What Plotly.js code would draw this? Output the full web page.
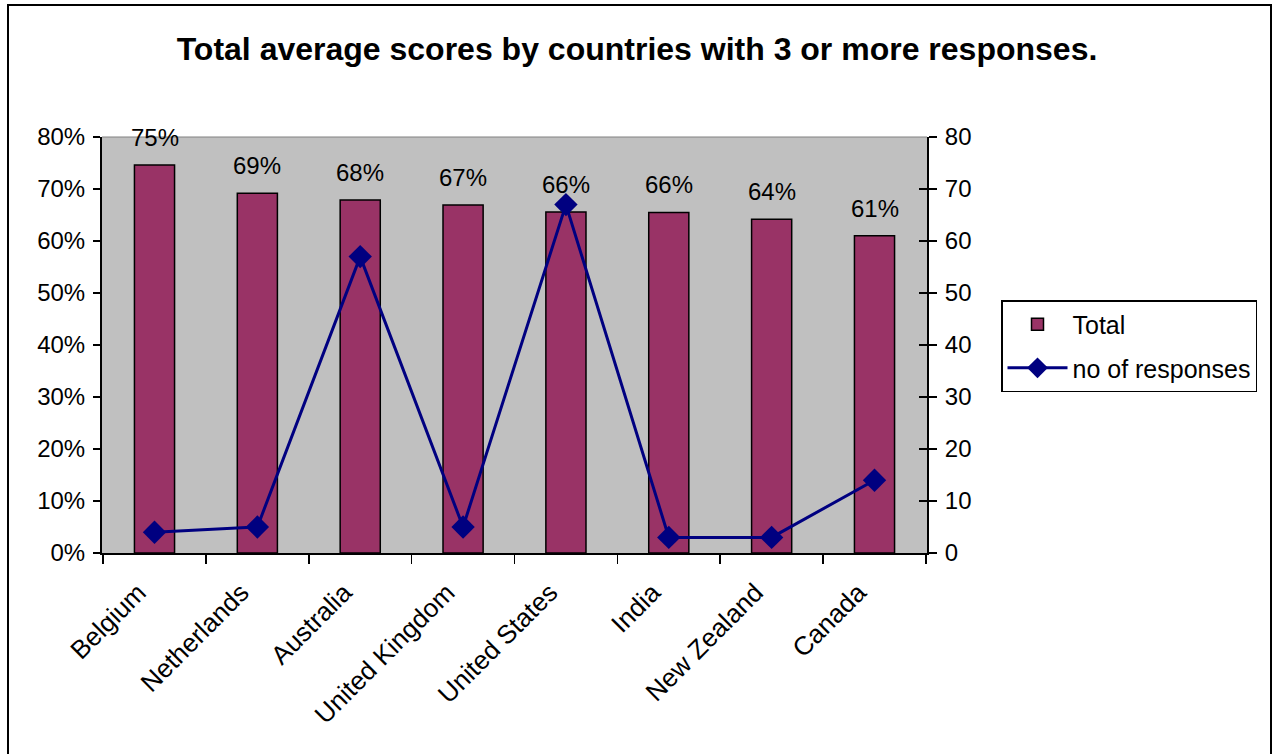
<!DOCTYPE html>
<html>
<head>
<meta charset="utf-8">
<script src="https://cdn.plot.ly/plotly-3.0.1.min.js"></script>
<style>
  html, body { margin: 0; padding: 0; background: #fff; }
  #frame { position: absolute; left: 7px; top: 4px; width: 1265px; height: 800px; border: 2px solid #000; box-sizing: border-box; pointer-events: none; }
  #chart { position: absolute; left: 0; top: 0; width: 1274px; height: 754px; }
</style>
</head>
<body>
<div id="chart"></div>
<div id="frame"></div>
<script>
// Data
const countries = ["Belgium", "Netherlands", "Australia", "United Kingdom", "United States", "India", "New Zealand", "Canada"];
const totalPct = [74.6, 69.2, 67.9, 66.9, 65.6, 65.5, 64.2, 61.0];
const responses = [4, 5, 57, 5, 67, 3, 3, 14];
const leftTicks = [0, 10, 20, 30, 40, 50, 60, 70, 80];
const rightTicks = [0, 10, 20, 30, 40, 50, 60, 70, 80];

const FONT = "Liberation Sans, Arial, sans-serif";
const FS = 24;

const barTrace = {
  type: "bar",
  name: "Total",
  legendgroup: "g1",
  x: countries,
  y: totalPct,
  marker: { color: "#993366", line: { color: "#000000", width: 1.5 } },
  width: 0.39,
  yaxis: "y",
  hoverinfo: "x+y"
};

const lineTrace = {
  type: "scatter",
  mode: "lines+markers",
  name: "no of responses",
  legendgroup: "g2",
  x: countries,
  y: responses,
  yaxis: "y2",
  line: { color: "#000080", width: 3 },
  marker: { symbol: "diamond", size: 18, color: "#000080" }
};

// Invisible helper trace so the right axis can have crossing ticks
const helperTrace = {
  type: "scatter", mode: "none", x: countries, y: responses, yaxis: "y3",
  showlegend: false, hoverinfo: "skip"
};

const annotations = countries.map((c, i) => ({
  x: c, y: totalPct[i], xref: "x", yref: "y",
  text: Math.round(totalPct[i]) + "%",
  showarrow: false, yanchor: "bottom", yshift: 12,
  font: { family: FONT, size: FS, color: "#000" }
}));

const layout = {
  width: 1274, height: 754,
  margin: { l: 102, r: 347, t: 137, b: 201, pad: 0 },
  paper_bgcolor: "#ffffff",
  plot_bgcolor: "#c0c0c0",
  font: { family: FONT, size: FS, color: "#000" },
  title: {
    text: "<b>Total average scores by countries with 3 or more responses.</b>",
    font: { family: FONT, size: 32, color: "#000" },
    x: 0.5, xref: "container", xanchor: "center",
    y: 1 - 49 / 754, yref: "container", yanchor: "middle"
  },
  showlegend: true,
  legend: {
    x: (1001 - 102) / 825, xanchor: "left",
    y: (553.3 - 300) / 416.6, yanchor: "top",
    bordercolor: "#000", borderwidth: 1.5, bgcolor: "#fff",
    font: { family: FONT, size: 25, color: "#000" },
    itemwidth: 60, tracegroupgap: 8
  },
  bargap: 0.61,
  xaxis: {
    type: "category",
    tickangle: -45,
    tickson: "boundaries",
    ticks: "outside", ticklen: 9, tickwidth: 1.5, tickcolor: "#000",
    showline: true, linecolor: "#000", linewidth: 2,
    showgrid: false, zeroline: false,
    tickfont: { family: FONT, size: 26, color: "#000" },
    ticklabelshift: -16,
    ticklabelstandoff: 12
  },
  yaxis: {
    range: [0, 80],
    tickvals: leftTicks,
    ticktext: leftTicks.map(v => v + "%"),
    ticks: "outside", ticklen: 7, tickwidth: 1.5, tickcolor: "#000",
    showline: true, linecolor: "#000", linewidth: 2,
    showgrid: false, zeroline: false,
    tickfont: { family: FONT, size: FS, color: "#000" },
    ticklabelstandoff: 3
  },
  yaxis2: {
    range: [0, 80], overlaying: "y", side: "right",
    tickvals: rightTicks,
    ticks: "outside", ticklen: 8, tickwidth: 1.5, tickcolor: "#000",
    showline: true, linecolor: "#000", linewidth: 2,
    showgrid: false, zeroline: false,
    tickfont: { family: FONT, size: FS, color: "#000" },
    ticklabelstandoff: 3
  },
  yaxis3: {
    range: [0, 80], overlaying: "y", side: "right",
    tickvals: rightTicks, showticklabels: false,
    ticks: "inside", ticklen: 8, tickwidth: 1.5, tickcolor: "#000",
    showline: false, showgrid: false, zeroline: false
  },
  annotations: annotations,
  shapes: [
    { type: "line", xref: "paper", yref: "paper", x0: 0, x1: 1, y0: 1, y1: 1,
      line: { color: "#808080", width: 1 } }
  ]
};

Plotly.newPlot("chart", [barTrace, lineTrace, helperTrace], layout, { displayModeBar: false, staticPlot: true });
</script>
</body>
</html>
